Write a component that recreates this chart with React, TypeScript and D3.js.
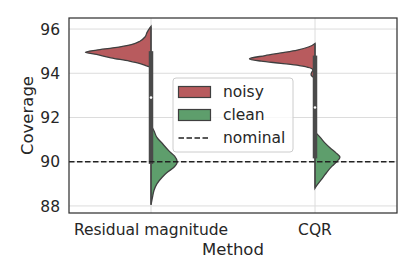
import React, { useEffect, useRef } from 'react';
import * as d3 from 'd3';

const methods = ['Residual magnitude', 'CQR'];
const hues = ['noisy', 'clean'];
const hueColors = ['#b85b5e', '#5e9e6c'];
const yTicks = [88, 90, 92, 94, 96];
const nominal = 90;

// violin outlines: [coverage, relative density]
const rmNoisy = [
  [96.12, 0], [96.0, 0.03], [95.85, 0.06], [95.65, 0.09], [95.45, 0.17], [95.3, 0.3],
  [95.15, 0.58], [95.05, 0.83], [94.95, 1.0], [94.85, 0.83], [94.7, 0.61], [94.55, 0.33],
  [94.45, 0.18], [94.35, 0.08], [94.28, 0],
];
const rmClean = [
  [91.65, 0], [91.4, 0.045], [91.1, 0.09], [90.8, 0.18], [90.5, 0.27], [90.25, 0.36],
  [90.0, 0.4], [89.75, 0.35], [89.5, 0.24], [89.3, 0.17], [89.0, 0.09], [88.7, 0.045],
  [88.4, 0.023], [88.05, 0],
];
const cqrNoisy = [
  [95.35, 0], [95.2, 0.09], [95.05, 0.27], [94.92, 0.52], [94.8, 0.76], [94.65, 1.0],
  [94.55, 0.82], [94.45, 0.52], [94.35, 0.24], [94.25, 0.08], [94.15, 0.03], [94.05, 0.05],
  [93.95, 0.06], [93.85, 0.04], [93.78, 0],
];
const cqrClean = [
  [91.35, 0], [91.1, 0.08], [90.85, 0.15], [90.6, 0.24], [90.4, 0.32], [90.2, 0.38],
  [90.0, 0.33], [89.8, 0.26], [89.6, 0.2], [89.4, 0.15], [89.2, 0.1], [89.0, 0.045], [88.8, 0],
];
// inner box: [low whisker, q1, median, q3, high whisker]
const rmBox = [88.05, 89.9, 92.9, 95.0, 96.12];
const cqrBox = [88.8, 90.15, 92.45, 94.8, 95.35];

const violins = [
  { method: 'Residual magnitude', hue: 'noisy', data: rmNoisy },
  { method: 'Residual magnitude', hue: 'clean', data: rmClean },
  { method: 'CQR', hue: 'noisy', data: cqrNoisy },
  { method: 'CQR', hue: 'clean', data: cqrClean },
];
const boxes = [
  { method: 'Residual magnitude', stats: rmBox },
  { method: 'CQR', stats: cqrBox },
];

const W = 415;
const H = 277;
const margin = { left: 69, right: 18, top: 18, bottom: 64 };
const font = 'DejaVu Sans, sans-serif';
const ink = '#262626';

const App = () => {
  const svgRef = useRef(null);

  useEffect(() => {
    const svg = d3.select(svgRef.current);
    svg.selectAll('*').remove();

    const x0 = margin.left;
    const x1 = W - margin.right;
    const y0 = margin.top;
    const y1 = H - margin.bottom;

    const x = d3.scalePoint().domain(methods).range([x0, x1]).padding(0.5);
    const y = d3.scaleLinear().domain([87.68, 96.5]).range([y1, y0]);
    const color = d3.scaleOrdinal().domain(hues).range(hueColors);
    const half = d3.scaleLinear().domain([0, 1]).range([0, x.step() * 0.4]);

    // grid
    const grid = svg.append('g');
    grid.selectAll('line.h').data(yTicks).join('line')
      .attr('x1', x0).attr('x2', x1)
      .attr('y1', d => y(d)).attr('y2', d => y(d))
      .attr('stroke', '#dcdcdc').attr('stroke-width', 1);
    grid.selectAll('line.v').data(methods).join('line')
      .attr('x1', d => x(d)).attr('x2', d => x(d))
      .attr('y1', y0).attr('y2', y1)
      .attr('stroke', '#dcdcdc').attr('stroke-width', 1);

    // violins (split)
    const gV = svg.append('g');
    violins.forEach(v => {
      const c = x(v.method);
      const left = v.hue === 'noisy';
      const area = d3.area()
        .y(d => y(d[0]))
        .x0(d => left ? c - half(d[1]) : c)
        .x1(d => left ? c : c + half(d[1]))
        .curve(d3.curveMonotoneY);
      gV.append('path')
        .attr('d', area(v.data))
        .attr('fill', color(v.hue))
        .attr('stroke', '#3f3f3f')
        .attr('stroke-width', 1.3);
    });

    // inner boxes
    boxes.forEach(b => {
      const c = x(b.method);
      const [lo, q1, med, q3, hi] = b.stats;
      gV.append('line')
        .attr('x1', c).attr('x2', c).attr('y1', y(lo)).attr('y2', y(hi))
        .attr('stroke', '#4a4a4a').attr('stroke-width', 1.3);
      gV.append('line')
        .attr('x1', c).attr('x2', c).attr('y1', y(q3)).attr('y2', y(q1))
        .attr('stroke', '#4a4a4a').attr('stroke-width', 4.5);
      gV.append('circle')
        .attr('cx', c).attr('cy', y(med)).attr('r', 1.3)
        .attr('fill', 'white');
    });

    // nominal line
    svg.append('line')
      .attr('x1', x0).attr('x2', x1)
      .attr('y1', y(nominal)).attr('y2', y(nominal))
      .attr('stroke', '#222').attr('stroke-width', 1.5)
      .attr('stroke-dasharray', '5.5,2.5');

    // frame
    svg.append('rect')
      .attr('x', x0).attr('y', y0).attr('width', x1 - x0).attr('height', y1 - y0)
      .attr('fill', 'none').attr('stroke', '#333').attr('stroke-width', 1.25);

    // tick labels
    svg.append('g').selectAll('text').data(yTicks).join('text')
      .attr('x', x0 - 9).attr('y', d => y(d)).attr('dy', '0.36em')
      .attr('text-anchor', 'end')
      .style('font-family', font).style('font-size', '15.5px').attr('fill', ink)
      .text(d => d);
    svg.append('g').selectAll('text').data(methods).join('text')
      .attr('x', d => x(d)).attr('y', y1 + 22)
      .attr('text-anchor', 'middle')
      .style('font-family', font).style('font-size', '15.5px').attr('fill', ink)
      .text(d => d);

    // axis labels
    svg.append('text')
      .attr('x', (x0 + x1) / 2).attr('y', y1 + 42)
      .attr('text-anchor', 'middle')
      .style('font-family', font).style('font-size', '16.5px').attr('fill', ink)
      .text('Method');
    svg.append('text')
      .attr('transform', `translate(33,${(y0 + y1) / 2}) rotate(-90)`)
      .attr('text-anchor', 'middle')
      .style('font-family', font).style('font-size', '16.5px').attr('fill', ink)
      .text('Coverage');

    // legend
    const lg = svg.append('g').attr('transform', 'translate(173,78)');
    lg.append('rect')
      .attr('width', 120).attr('height', 74).attr('rx', 3)
      .attr('fill', 'white').attr('fill-opacity', 0.8)
      .attr('stroke', '#cccccc').attr('stroke-width', 1);
    const items = [...hues, 'nominal'];
    items.forEach((name, i) => {
      const cy = 14 + i * 23;
      if (i < hues.length) {
        lg.append('rect')
          .attr('x', 5.5).attr('y', cy - 5.5).attr('width', 32).attr('height', 11)
          .attr('fill', color(name)).attr('stroke', '#3f3f3f').attr('stroke-width', 1.2);
      } else {
        lg.append('line')
          .attr('x1', 5.5).attr('x2', 37.5).attr('y1', cy).attr('y2', cy)
          .attr('stroke', '#222').attr('stroke-width', 1.5)
          .attr('stroke-dasharray', '5.5,2.5');
      }
      lg.append('text')
        .attr('x', 50).attr('y', cy).attr('dy', '0.3em')
        .style('font-family', font).style('font-size', '15.5px').attr('fill', ink)
        .text(name);
    });
  }, []);

  return (
    <svg ref={svgRef} width={W} height={H}
      style={{ position: 'absolute', left: 0, top: 0, background: 'white' }} />
  );
};

export default App;
